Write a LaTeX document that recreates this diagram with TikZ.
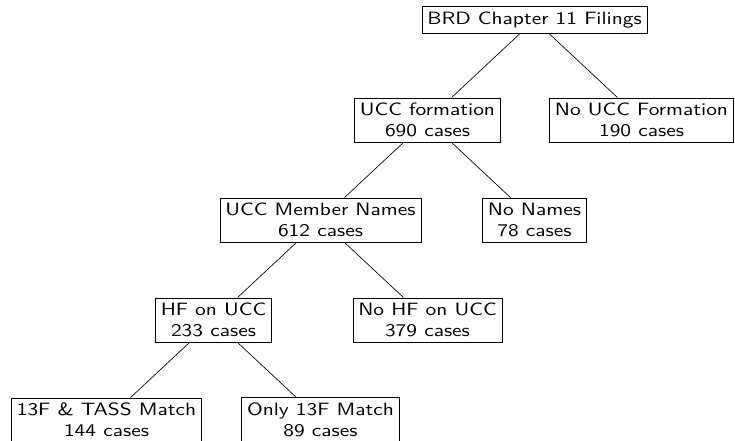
\documentclass[tikz,border=0pt]{standalone}
\usepackage{fontspec}
\setsansfont{lmsans10-regular.otf}[FakeStretch=1.2]
\usepackage{tikz}
\usetikzlibrary{positioning}

\begin{document}
\begin{tikzpicture}[
    node distance=60pt and 64.2pt, on grid,
    block/.style={rectangle, draw, align=center, inner sep=3.2pt, font=\fontsize{10.7pt}{12.4pt}\sffamily},
    line/.style={draw}
]
\useasboundingbox (0,0) rectangle (441pt,-264.6pt);
\node [block] (filings) at (320.7pt,-12pt) {BRD Chapter 11 Filings};
\node [block, below left=of filings] (formation) {UCC formation\\690 cases};
\node [block, below right=of filings] (noformation) {No UCC Formation\\190 cases};
\node [block, below left=of formation] (names) {UCC Member Names\\612 cases};
\node [block, below right=of formation] (nonames) {No Names\\78 cases};
\node [block, below left=of names] (hf) {HF on UCC\\233 cases};
\node [block, below right=of names] (nohf) {No HF on UCC\\379 cases};
\node [block, below left=of hf] (tass) {13F \& TASS Match\\144 cases};
\node [block, below right=of hf] (only) {Only 13F Match\\89 cases};

\path [line] (filings) -- (formation);
\path [line] (filings) -- (noformation);
\path [line] (formation) -- (names);
\path [line] (formation) -- (nonames);
\path [line] (names) -- (hf);
\path [line] (names) -- (nohf);
\path [line] (hf) -- (tass);
\path [line] (hf) -- (only);

\end{tikzpicture}
\end{document}
